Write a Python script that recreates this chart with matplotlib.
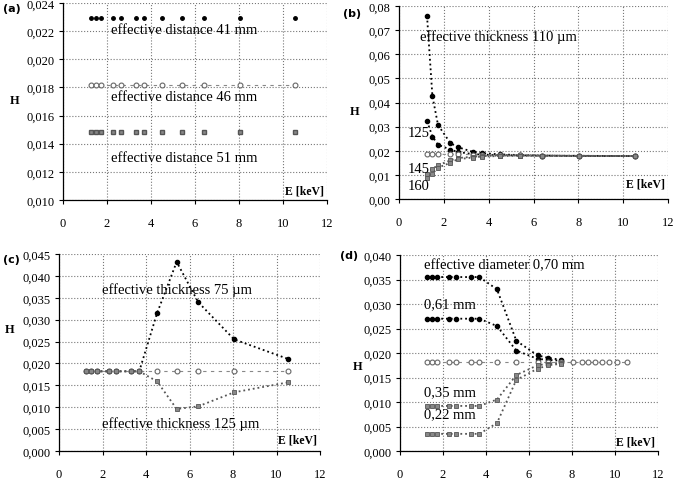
import matplotlib
matplotlib.use("Agg")
import matplotlib.pyplot as plt
from matplotlib.ticker import FuncFormatter

plt.rcParams['font.family'] = ['Liberation Serif', 'DejaVu Serif']

# energies of the measured lines (keV)
E = [1.25, 1.49, 1.74, 2.29, 2.62, 3.31, 3.69, 4.51, 5.41, 6.40, 8.05, 10.55]

# (a) effective distance
h_41 = [0.0229, 0.0229, 0.0229, 0.0229, 0.0229, 0.0229, 0.0229, 0.0229, 0.0229, 0.0229, 0.0229, 0.0229]
h_46 = [0.0182, 0.0182, 0.0182, 0.0182, 0.0182, 0.0182, 0.0182, 0.0182, 0.0182, 0.0182, 0.0182, 0.0182]
h_51 = [0.0148, 0.0148, 0.0148, 0.0148, 0.0148, 0.0148, 0.0148, 0.0148, 0.0148, 0.0148, 0.0148, 0.0148]

# (b) effective thickness 110/125/145/160 um
t_110 = [0.0759, 0.0427, 0.0307, 0.0232, 0.0215, 0.0195, 0.0190, 0.0185, 0.0182, 0.0180, 0.0178, 0.0178]
t_125 = [0.0323, 0.0259, 0.0225, 0.0205, 0.0195, 0.0186, 0.0184, 0.0182, 0.0181, 0.0180, 0.0179, 0.0178]
t_ref = [0.0185, 0.0185, 0.0185, 0.0185, 0.0185, 0.0184, 0.0183, 0.0182, 0.0181, 0.0180, 0.0179, 0.0178]
t_145 = [0.0105, 0.0125, 0.0140, 0.0160, 0.0170, 0.0175, 0.0178, 0.0180, 0.0180, 0.0180, 0.0179, 0.0178]
t_160 = [0.0085, 0.0105, 0.0130, 0.0150, 0.0165, 0.0172, 0.0176, 0.0178, 0.0179, 0.0179, 0.0179, 0.0178]

# (c) effective thickness 75/125 um
c_75 = [0.0182, 0.0182, 0.0182, 0.0182, 0.0182, 0.0182, 0.0182, 0.0315, 0.0432, 0.0340, 0.0255, 0.0210]
c_ref = [0.0182, 0.0182, 0.0182, 0.0182, 0.0182, 0.0182, 0.0182, 0.0182, 0.0182, 0.0182, 0.0182, 0.0182]
c_125 = [0.0182, 0.0182, 0.0182, 0.0182, 0.0182, 0.0182, 0.0182, 0.0159, 0.0096, 0.0102, 0.0134, 0.0157]

# (d) effective diameter
E_d = [1.25, 1.49, 1.74, 2.29, 2.62, 3.31, 3.69, 4.51, 5.41, 6.40, 6.90, 7.50]
d_070 = [0.0355, 0.0355, 0.0355, 0.0355, 0.0355, 0.0355, 0.0355, 0.0330, 0.0225, 0.0195, 0.0190, 0.0186]
d_061 = [0.0270, 0.0270, 0.0270, 0.0270, 0.0270, 0.0270, 0.0270, 0.0255, 0.0205, 0.0188, 0.0186, 0.0184]
d_035 = [0.0092, 0.0092, 0.0092, 0.0092, 0.0092, 0.0092, 0.0092, 0.0105, 0.0155, 0.0175, 0.0178, 0.0180]
d_022 = [0.0035, 0.0035, 0.0035, 0.0035, 0.0035, 0.0035, 0.0035, 0.0057, 0.0145, 0.0168, 0.0175, 0.0178]
E_dref = [1.25, 1.49, 1.74, 2.29, 2.62, 3.31, 3.69, 4.51, 5.41, 6.40, 6.90, 7.50,
          8.05, 8.45, 8.75, 9.05, 9.40, 9.70, 10.10, 10.55]
d_ref = [0.0182, 0.0182, 0.0182, 0.0182, 0.0182, 0.0182, 0.0182, 0.0182, 0.0182, 0.0182,
         0.0182, 0.0182, 0.0182, 0.0182, 0.0182, 0.0182, 0.0182, 0.0182, 0.0182, 0.0182]

W, H = 676, 481
fig = plt.figure(figsize=(W / 100, H / 100), dpi=100)


def px_axes(l, t, r, b):
    return fig.add_axes([l / W, 1 - b / H, (r - l) / W, (b - t) / H])


def comma_fmt(nd):
    return FuncFormatter(lambda v, p: f"{v:.{nd}f}".replace('.', ','))


def style(ax, ymin, ymax, ystep, nd, elabel_y):
    ax.set_xlim(0, 12)
    ax.set_ylim(ymin, ymax)
    ax.set_xticks(range(0, 13, 2))
    n = int(round((ymax - ymin) / ystep))
    ax.set_yticks([ymin + i * ystep for i in range(n + 1)])
    ax.yaxis.set_major_formatter(comma_fmt(nd))
    ax.grid(True, color='#777777', linestyle=':', linewidth=0.8)
    for s in ['top', 'right']:
        ax.spines[s].set_visible(False)
    for s in ['left', 'bottom']:
        ax.spines[s].set_linewidth(0.9)
    ax.tick_params(axis='both', labelsize=9, direction='out', length=3, width=0.8)
    ax.tick_params(axis='x', pad=9)
    ax.tick_params(axis='y', pad=3)
    ax.text(0.99, elabel_y, 'E [keV]', transform=ax.transAxes, ha='right',
            va='center', fontsize=8.5, fontweight='bold')


dot_k = dict(color='black', linestyle=':', linewidth=1.3, marker='o', ms=3,
             mfc='black', mec='black')
ring = dict(color='#888888', linestyle=(0, (3, 4)), linewidth=0.8, marker='o', ms=3.5,
            mfc='white', mec='#666666', mew=0.8)
sq = dict(color='#555555', linestyle=':', linewidth=1.3, marker='s', ms=3.5,
          mfc='#888888', mec='#555555', mew=0.6)

# (a)
ax = px_axes(63, 4, 327, 201)
style(ax, 0.010, 0.024, 0.002, 3, 0.05)
ax.plot(E, h_41, color='black', linestyle='none', marker='o', ms=2.5)
ax.plot(E, h_46, **ring)
ax.plot(E, h_51, color='#555555', linestyle='none', marker='s', ms=3.5, mfc='#888888', mec='#555555')
ax.text(2.2, 0.02215, 'effective distance 41 mm', fontsize=10.5, va='center')
ax.text(2.2, 0.01735, 'effective distance 46 mm', fontsize=10.5, va='center')
ax.text(2.2, 0.01305, 'effective distance 51 mm', fontsize=10.5, va='center')

# (b)
ax = px_axes(399, 7, 668, 200)
style(ax, 0.0, 0.08, 0.01, 2, 0.078)
ax.plot(E, t_110, **dot_k)
ax.plot(E, t_125, **dot_k)
ax.plot(E, t_ref, **ring)
ax.plot(E, t_145, **sq)
ax.plot(E, t_160, **sq)
ax.text(0.95, 0.0675, 'effective thickness 110 µm', fontsize=10.5, va='center')
ax.text(0.4, 0.0275, '125', fontsize=10.5, va='center')
ax.text(0.4, 0.0125, '145', fontsize=10.5, va='center')
ax.text(0.4, 0.0055, '160', fontsize=10.5, va='center')

# (c)
ax = px_axes(59, 255, 320, 452)
style(ax, 0.0, 0.045, 0.005, 3, 0.06)
ax.plot(E, c_75, **dot_k)
ax.plot(E, c_ref, **ring)
ax.plot(E, c_125, **sq)
ax.text(2.0, 0.0370, 'effective thickness 75 µm', fontsize=10.5, va='center')
ax.text(2.0, 0.0063, 'effective thickness 125 µm', fontsize=10.5, va='center')

# (d)
ax = px_axes(400, 256, 658, 452)
style(ax, 0.0, 0.040, 0.005, 3, 0.046)
ax.plot(E_d, d_070, **dot_k)
ax.plot(E_d, d_061, **dot_k)
ax.plot(E_dref, d_ref, **ring)
ax.plot(E_d, d_035, **sq)
ax.plot(E_d, d_022, **sq)
ax.text(1.1, 0.0380, 'effective diameter 0,70 mm', fontsize=10.5, va='center')
ax.text(1.1, 0.0300, '0,61 mm', fontsize=10.5, va='center')
ax.text(1.1, 0.0122, '0,35 mm', fontsize=10.5, va='center')
ax.text(1.1, 0.0077, '0,22 mm', fontsize=10.5, va='center')

# panel letters and H labels
for lab, x, y in [('(a)', 3, 9), ('(b)', 343, 14), ('(c)', 3, 260), ('(d)', 340, 256)]:
    fig.text(x / W, 1 - y / H, lab, fontsize=8, fontweight='bold', va='center',
             family=['DejaVu Sans'])
for x, y in [(15, 101), (355, 112), (10, 330), (358, 367)]:
    fig.text(x / W, 1 - y / H, 'H', fontsize=9, fontweight='bold', ha='center', va='center')

fig.savefig('out.png', dpi=100)
